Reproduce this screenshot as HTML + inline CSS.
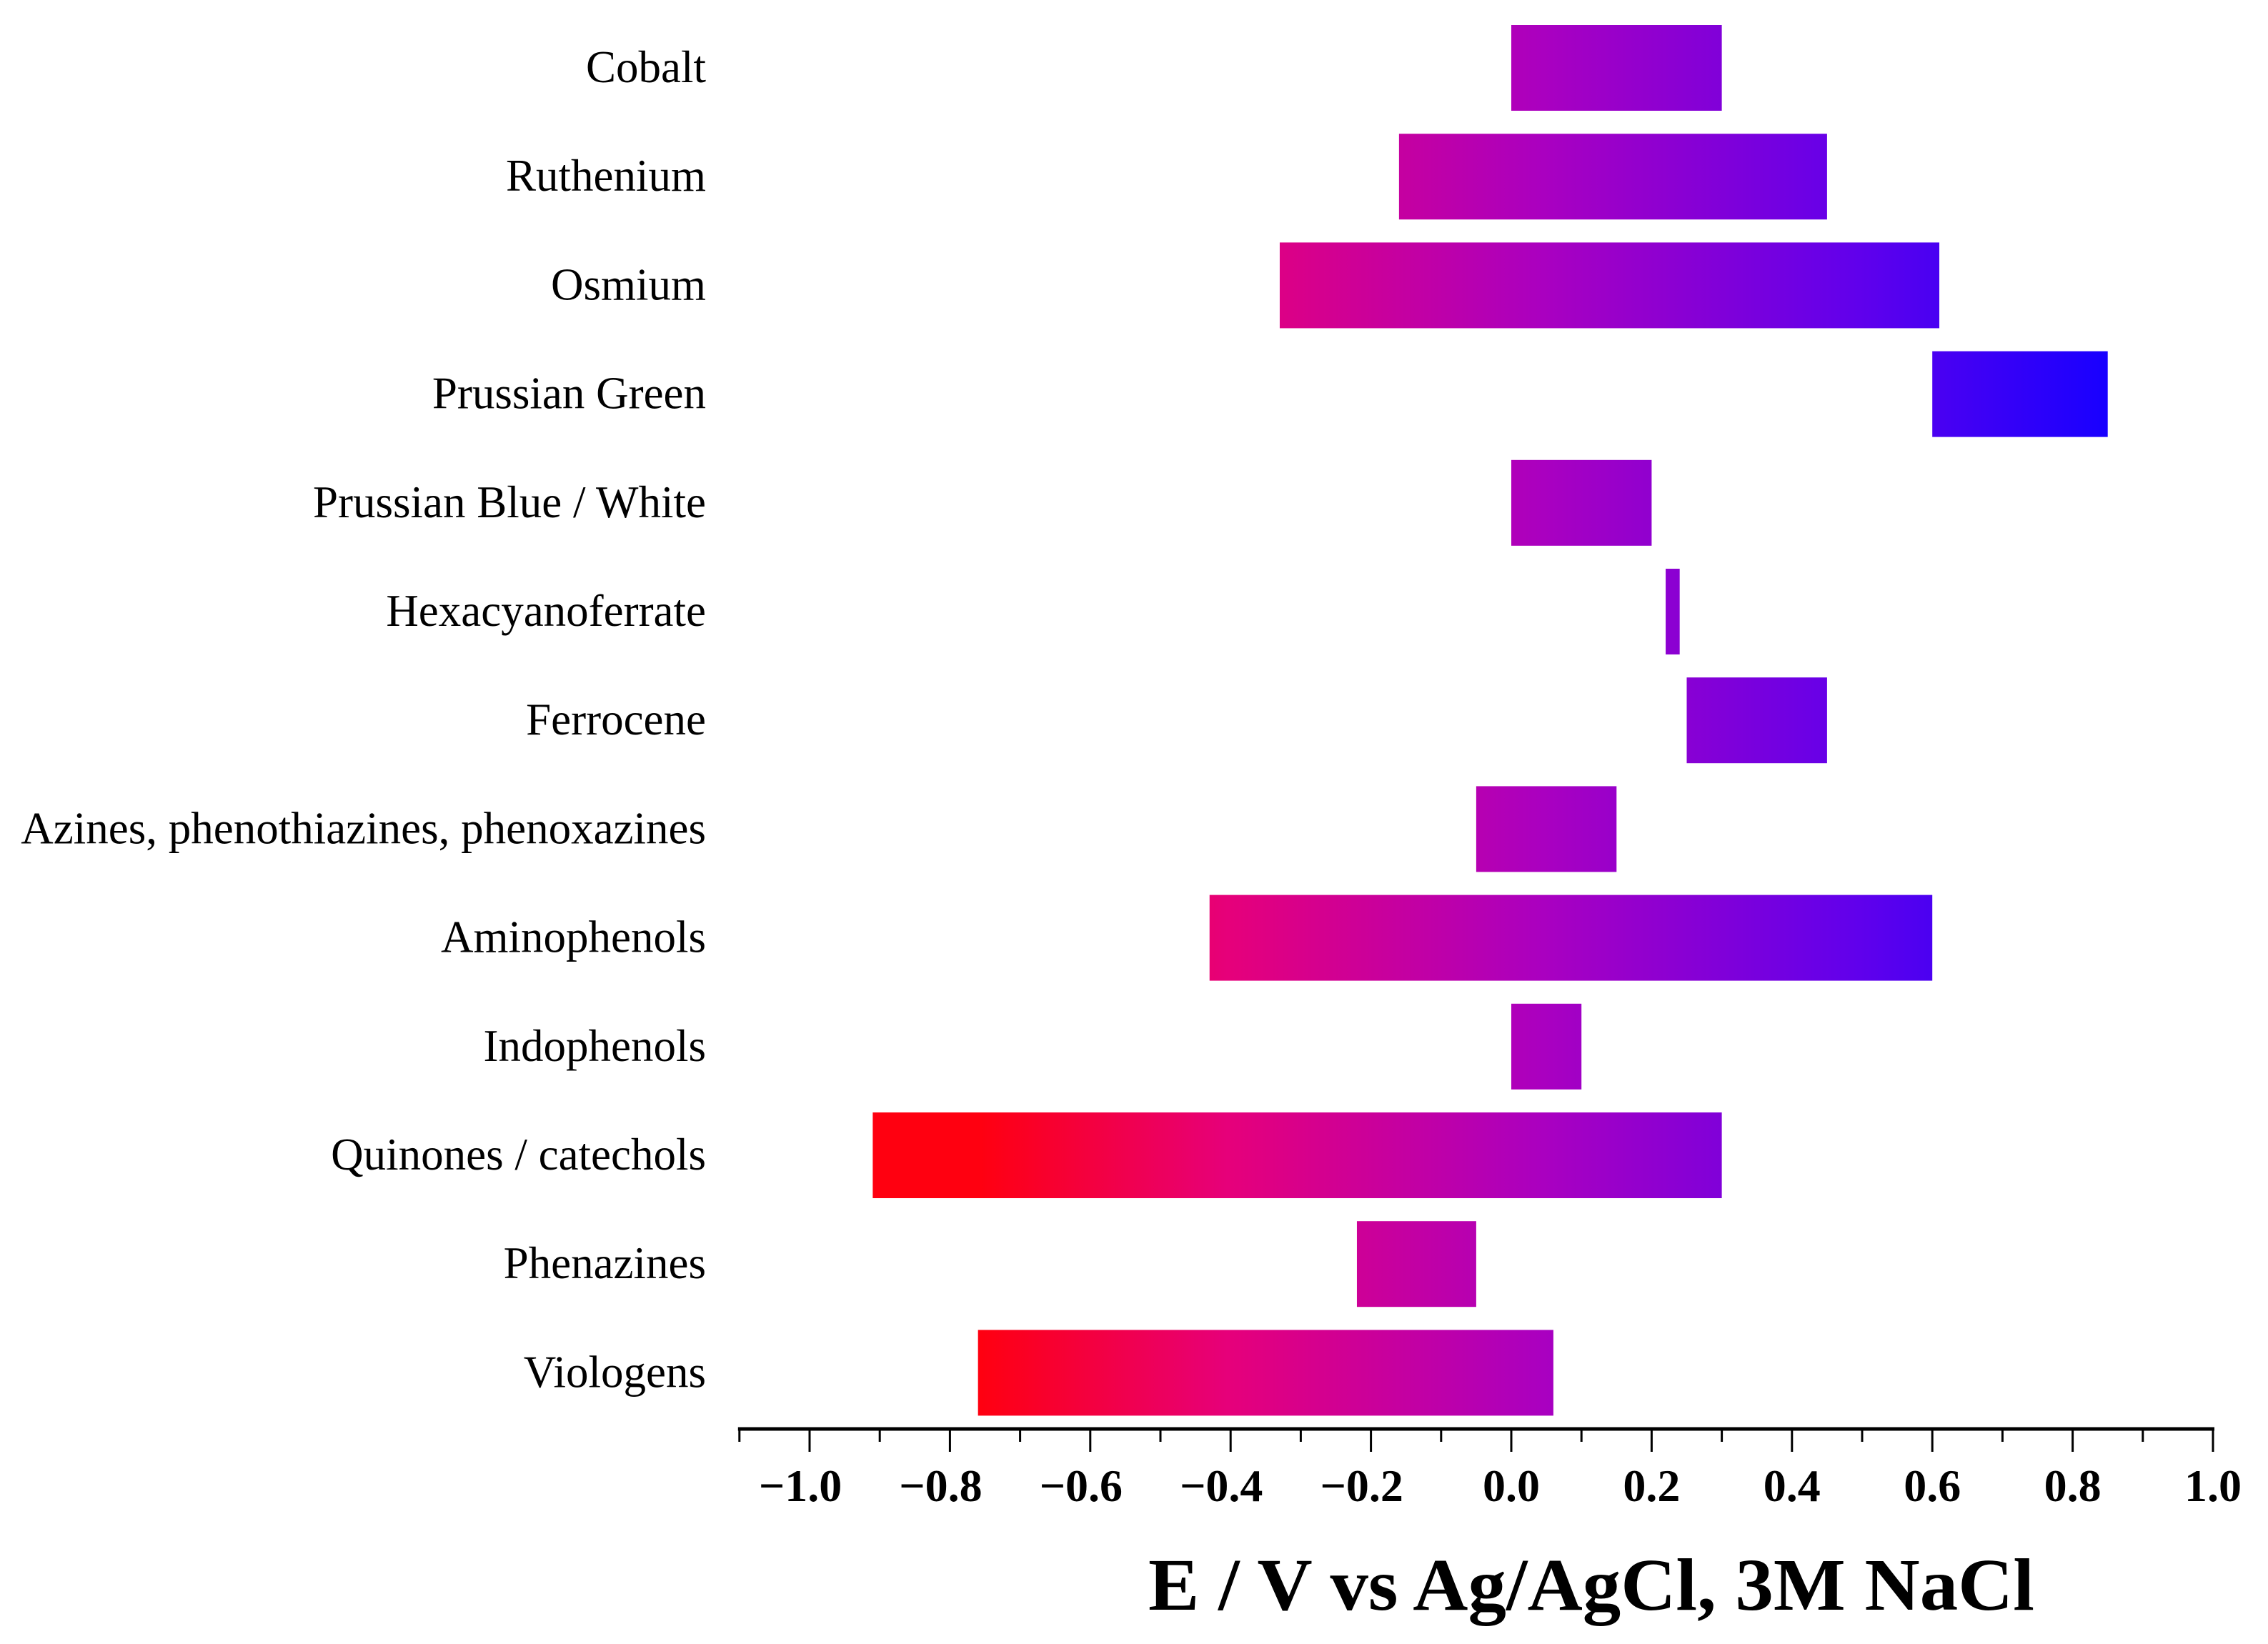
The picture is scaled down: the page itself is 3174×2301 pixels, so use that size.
<!DOCTYPE html>
<html><head><meta charset="utf-8"><style>
html,body{margin:0;padding:0;background:#fff;}
svg{display:block;}
</style></head><body>
<svg id="chart" width="3174" height="2301" viewBox="0 0 3174 2301" xmlns="http://www.w3.org/2000/svg">
<defs>
<linearGradient id="grad" gradientUnits="userSpaceOnUse" x1="1370" y1="0" x2="2950" y2="0">
<stop offset="0" stop-color="#ff0010"/>
<stop offset="0.22" stop-color="#e6007a"/>
<stop offset="0.5" stop-color="#aa00c0"/>
<stop offset="0.78" stop-color="#6000ec"/>
<stop offset="1" stop-color="#1800ff"/>
</linearGradient>
</defs>
<g id="bars"></g>
<g id="labels"></g>
<g id="axis"></g>
<text x="2227" y="2253" text-anchor="middle" font-family="Liberation Serif, serif" font-weight="bold" font-size="104" textLength="1240" lengthAdjust="spacingAndGlyphs">E / V vs Ag/AgCl, 3M NaCl</text>
</svg>
<script>
const categories = ["Cobalt","Ruthenium","Osmium","Prussian Green","Prussian Blue / White","Hexacyanoferrate","Ferrocene","Azines, phenothiazines, phenoxazines","Aminophenols","Indophenols","Quinones / catechols","Phenazines","Viologens"];
const startValues = [0, -0.16, -0.33, 0.60, 0, 0.22, 0.25, -0.05, -0.43, 0, -0.91, -0.22, -0.76];
const endValues = [0.30, 0.45, 0.61, 0.85, 0.20, 0.24, 0.45, 0.15, 0.60, 0.10, 0.30, -0.05, 0.06];
const tickValues = [-1.0,-0.8,-0.6,-0.4,-0.2,0.0,0.2,0.4,0.6,0.8,1.0];
const tickLabels = ["\u22121.0","\u22120.8","\u22120.6","\u22120.4","\u22120.2","0.0","0.2","0.4","0.6","0.8","1.0"];

const NS = "http://www.w3.org/2000/svg";
const x0 = 2115, pxPerUnit = 982;
function xScale(v){ return x0 + v * pxPerUnit; }
function yScale(i){ return 95 + i * 152.2; }
const barH = 120, axisY = 2000;

const barsG = document.getElementById('bars');
const labelsG = document.getElementById('labels');
categories.forEach((c, i) => {
  const xa = xScale(startValues[i]), xb = xScale(endValues[i]);
  const r = document.createElementNS(NS, 'rect');
  r.setAttribute('x', Math.min(xa, xb));
  r.setAttribute('y', yScale(i) - barH / 2);
  r.setAttribute('width', Math.abs(xb - xa));
  r.setAttribute('height', barH);
  r.setAttribute('fill', 'url(#grad)');
  
  
  barsG.appendChild(r);
  const t = document.createElementNS(NS, 'text');
  t.setAttribute('x', 988);
  t.setAttribute('y', yScale(i) + 20);
  t.setAttribute('text-anchor', 'end');
  t.setAttribute('font-family', 'Liberation Serif, serif');
  t.setAttribute('font-size', '63');
  t.textContent = c;
  
  
  labelsG.appendChild(t);
});

const axisG = document.getElementById('axis');
const line = document.createElementNS(NS, 'line');
line.setAttribute('x1', xScale(-1.1) - 2); line.setAttribute('x2', xScale(1.0) + 2);
line.setAttribute('y1', axisY); line.setAttribute('y2', axisY);
line.setAttribute('stroke', '#000'); line.setAttribute('stroke-width', '5');


axisG.appendChild(line);
for (let k = -11; k <= 10; k++) {
  const v = k / 10, major = (k % 2 === 0);
  const tk = document.createElementNS(NS, 'line');
  tk.setAttribute('x1', xScale(v)); tk.setAttribute('x2', xScale(v));
  tk.setAttribute('y1', axisY); tk.setAttribute('y2', axisY + (major ? 32 : 18));
  tk.setAttribute('stroke', '#000'); tk.setAttribute('stroke-width', '3');
  
  
  axisG.appendChild(tk);
}
tickValues.forEach((v, i) => {
  const t = document.createElementNS(NS, 'text');
  t.setAttribute('x', xScale(v) - (v < 0 ? 13 : 0));
  t.setAttribute('y', 2101);
  t.setAttribute('text-anchor', 'middle');
  t.setAttribute('font-family', 'Liberation Serif, serif');
  t.setAttribute('font-weight', 'bold');
  t.setAttribute('font-size', '64');
  t.textContent = tickLabels[i];
  
  
  axisG.appendChild(t);
});
</script>
</body></html>
